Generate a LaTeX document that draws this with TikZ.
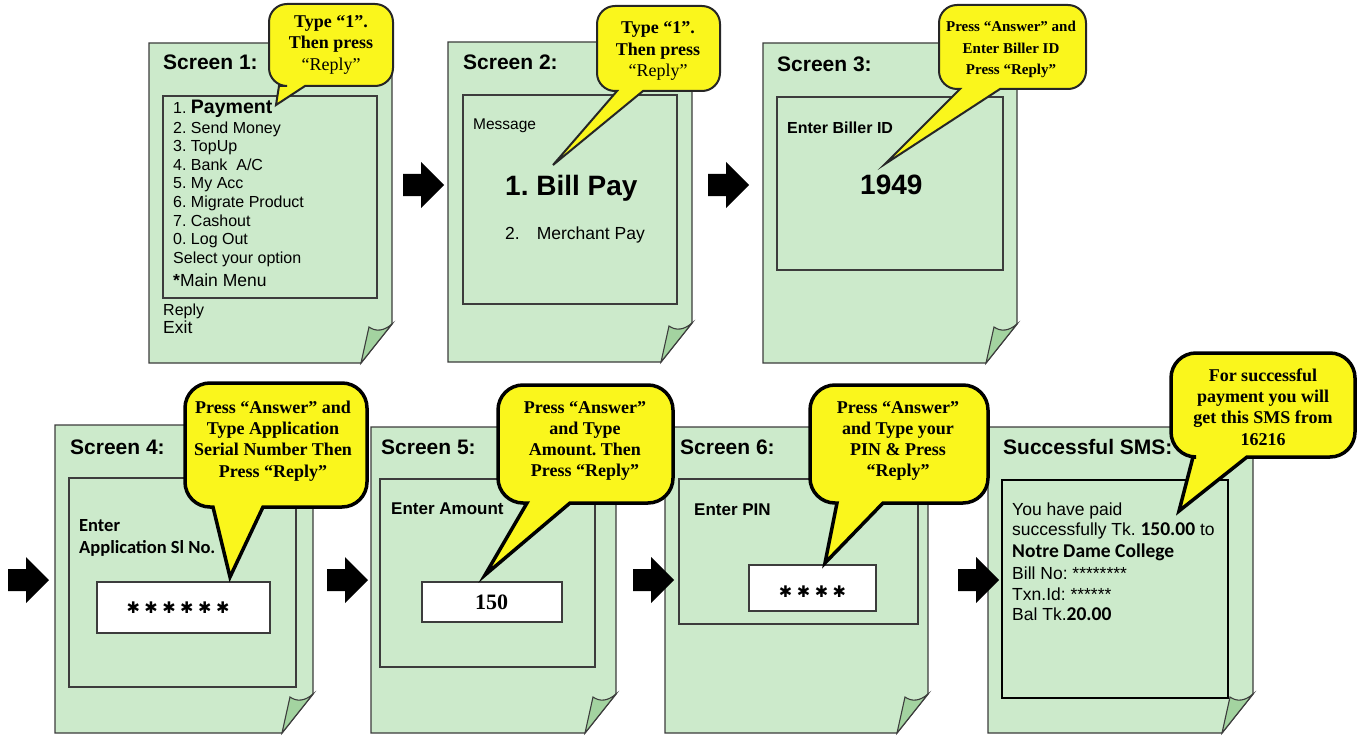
\documentclass[tikz,border=0pt]{standalone}
\usepackage{fontspec}
\setmainfont{Liberation Sans}
\newfontfamily\calfont{Carlito}
\newfontfamily\serfont{Liberation Serif}
\newfontfamily\djvfont{DejaVu Sans}
\definecolor{pagefill}{RGB}{204,234,203}
\definecolor{flapfill}{RGB}{163,211,160}
\definecolor{yel}{RGB}{250,246,28}
\definecolor{edge}{RGB}{60,60,60}
\frenchspacing
\newcommand\fs[1]{\fontsize{#1}{#1}\selectfont}
\newcommand\pagebox[4]{%
  \draw[pageline,fill=pagefill] (#1,#2) -- (#3,#2) -- (#3,#4-39) -- (#3-31,#4) -- (#1,#4) -- cycle;
  \draw[pageline,fill=flapfill,line width=1.1pt] (#3-31,#4) -- (#3-23,#4-36) .. controls (#3-16,#4-31) and (#3-8,#4-32) .. (#3,#4-39) -- cycle;}
\newcommand\barrow[2]{\fill[black,shift={(#1,#2)}] (0,-11) -- (18,-11) -- (18,-23) -- (41,0) -- (18,23) -- (18,11) -- (0,11) -- cycle;}
\newcommand\callout[9]{%
  \draw (#1+#5,#2) -- (#3-#5,#2) arc[start angle=-90,end angle=0,radius=#5]
    -- (#3,#4-#5) arc[start angle=0,end angle=90,radius=#5]
    -- (#7,#4) -- (#8,#9) -- (#6,#4)
    -- (#1+#5,#4) arc[start angle=90,end angle=180,radius=#5]
    -- (#1,#2+#5) arc[start angle=180,end angle=270,radius=#5] -- cycle;}
\newcommand\sts{{\djvfont\fs{16}✱}}
\newcommand\gap{\hspace{4.5pt}}
\begin{document}
\begin{tikzpicture}[x=1pt,y=-1pt,
  pageline/.style={draw=edge,line width=1.3pt,line join=miter},
  inner/.style={draw=edge,line width=1.1pt,fill=pagefill},
  inbox/.style={draw=edge,line width=1.5pt,fill=white},
  txt/.style={inner sep=0pt,anchor=base west,text=black},
  ctext/.style={inner sep=0pt,anchor=center,align=center,text=black},
  callA/.style={draw=black!85,line width=2pt,fill=yel,line join=miter},
  callB/.style={draw=black,line width=3.5pt,fill=yel,line join=miter},
  ctA/.style={ctext,font=\serfont\bfseries\fontsize{18}{21.5}\selectfont},
  ctB/.style={ctext,font=\serfont\bfseries\fontsize{18}{21.3}\selectfont}]
\useasboundingbox (0,0) rectangle (1372,738);
% pages
\pagebox{149}{43}{392}{363}
\pagebox{448}{42}{692}{362}
\pagebox{763}{43}{1017}{363}
\pagebox{55}{425}{313}{733}
\pagebox{371}{427}{616}{733}
\pagebox{665}{427}{928}{733}
\pagebox{988}{427}{1253}{733}
% inner boxes
\draw[inner] (163,96) rectangle (377,298);
\draw[inner] (463,95) rectangle (677,304);
\draw[inner] (777,97) rectangle (1003,270);
\draw[inner] (69,478) rectangle (296,687);
\draw[inner] (380,479) rectangle (595,667);
\draw[inner] (679,479) rectangle (918,624);
\draw[draw=black,line width=2pt,fill=pagefill] (1002,480) rectangle (1228,698);
% input boxes
\draw[inbox] (97,582) rectangle (270,633);
\draw[inbox] (422,582) rectangle (562,622);
\draw[inbox] (749,565) rectangle (876,611);
% screen 1
\node[txt,font=\bfseries\fs{21}] (t1) at (163,70) {Screen 1:};
\node[txt,font=\fs{16}] (m1) at (173,114) {1. {\bfseries\fs{19.5}Payment}};
\node[txt,font=\fs{16}] (m2) at (173,133.3) {2. Send Money};
\node[txt,font=\fs{16}] (m3) at (173,151.9) {3. TopUp};
\node[txt,font=\fs{16}] (m4) at (173,170.5) {4. Bank\ \ A/C};
\node[txt,font=\fs{16}] (m5) at (173,189) {5. My Acc};
\node[txt,font=\fs{16}] (m6) at (173,207.6) {6. Migrate Product};
\node[txt,font=\fs{16}] (m7) at (173,226.2) {7. Cashout};
\node[txt,font=\fs{16}] (m8) at (173,244.7) {0. Log Out};
\node[txt,font=\fs{16}] (m9) at (173,263.3) {Select your option};
\node[txt,font=\fs{17.5}] (m10) at (173,286) {\textbf{*}Main Menu};
\node[txt,font=\fs{16}] (r1) at (163,315) {Reply};
\node[txt,font=\fs{17.5}] (e1) at (163,333) {Exit};
% screen 2
\node[txt,font=\bfseries\fs{21}] (t2) at (463,70) {Screen 2:};
\node[txt,font=\fs{15.5}] (msg) at (473,129.3) {Message};
\node[txt,font=\bfseries\fs{28}] (bp) at (505,195) {1. Bill Pay};
\node[txt,font=\fs{17.5}] (mp) at (505,239.3) {2.\hspace{17pt}Merchant Pay};
% screen 3
\node[txt,font=\bfseries\fs{21}] (t3) at (777,72) {Screen 3:};
\node[txt,font=\bfseries\fs{16}] (eb) at (787,134) {Enter Biller ID};
\node[txt,font=\bfseries\fs{28}] (bid) at (860,194) {1949};
% screen 4
\node[txt,font=\bfseries\fs{21}] (t4) at (70,454) {Screen 4:};
\node[txt,font=\calfont\bfseries\fs{18.5}] (en4) at (79,531.7) {Enter};
\node[txt,font=\calfont\bfseries\fs{18.5}] (ap4) at (79,553.3) {Application Sl No.};
\node[ctext] (st4) at (178,608) {\sts\gap\sts\gap\sts\gap\sts\gap\sts\gap\sts};
% screen 5
\node[txt,font=\bfseries\fs{21}] (t5) at (381,454) {Screen 5:};
\node[txt,font=\bfseries\fs{17}] (ea) at (391,514) {Enter Amount};
\node[ctext,font=\serfont\bfseries\fs{22}] (v150) at (491.5,602) {150};
% screen 6
\node[txt,font=\bfseries\fs{21}] (t6) at (680,454) {Screen 6:};
\node[txt,font=\bfseries\fs{17}] (ep) at (694,515) {Enter PIN};
\node[ctext] (st6) at (812.5,592) {\sts\gap\sts\gap\sts\gap\sts};
% SMS
\node[txt,font=\bfseries\fs{21}] (ts) at (1003,454) {Successful SMS:};
\node[txt,font=\fs{17.5}] (s1) at (1012,515) {You have paid};
\node[txt,font=\fs{17.5}] (s2) at (1012,535) {successfully Tk. {\calfont\bfseries\fs{19.5}150.00} to};
\node[txt,font=\calfont\bfseries\fs{19.5}] (s3) at (1012,557.3) {Notre Dame College};
\node[txt,font=\fs{17.5}] (s4) at (1012,579.3) {Bill No: ********};
\node[txt,font=\fs{17.5}] (s5) at (1012,600) {Txn.Id: ******};
\node[txt,font=\fs{17.5}] (s6) at (1012,620.7) {Bal Tk.{\calfont\bfseries\fs{19.5}20.00}};
% arrows
\barrow{403}{185}
\barrow{708}{185}
\barrow{8}{580}
\barrow{327}{580}
\barrow{633}{580}
\barrow{958}{580}
% callouts
\begin{scope}[every path/.style={callA}]
\callout{269}{4}{393}{86}{18}{279}{305}{276}{105}
\callout{597}{6}{720}{91}{18}{617}{643}{553}{165}
\callout{939}{5}{1086}{89}{18}{960}{1000}{885}{164}
\end{scope}
\begin{scope}[every path/.style={callB}]
\callout{185}{383}{367}{507}{25}{213}{263}{230}{577}
\callout{498}{385}{673}{503}{25}{527}{570}{485}{575}
\callout{810}{385}{988}{503}{25}{837}{883}{825}{563}
\callout{1171}{353}{1355}{457}{25}{1193}{1247}{1179}{511}
\end{scope}
\node[ctA] (c1) at (331,44.5) {Type “1”.\\Then press\\{\mdseries “Reply”}};
\node[ctA] (c2) at (658,51) {Type “1”.\\Then press\\{\mdseries “Reply”}};
\node[ctext,font=\serfont\bfseries\fontsize{15}{21.5}\selectfont] (c3) at (1011,49.5) {Press “Answer” and\\Enter Biller ID\\Press “Reply”};
\node[ctB] (c4) at (273,441) {Press “Answer” and\\Type Application\\Serial Number Then\\Press “Reply”};
\node[ctB] (c5) at (585,441) {Press “Answer”\\and Type\\Amount. Then\\Press “Reply”};
\node[ctB] (c6) at (898,441) {Press “Answer”\\and Type your\\PIN \& Press\\“Reply”};
\node[ctB] (c7) at (1263,407) {For successful\\payment you will\\get this SMS from\\16216};
\end{tikzpicture}
\end{document}
